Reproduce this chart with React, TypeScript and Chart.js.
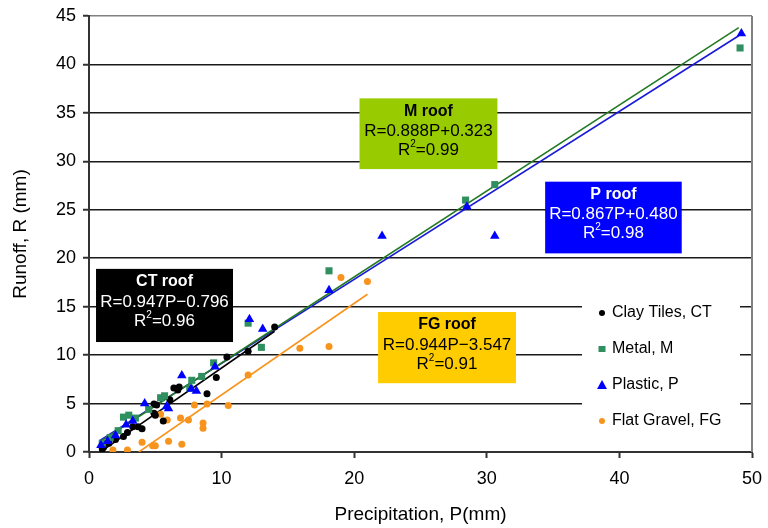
import React, { useEffect, useRef } from 'react';
import { Chart, registerables } from 'chart.js';

Chart.register(...registerables);

const FONT = '"Liberation Sans", Arial, Helvetica, sans-serif';

// Clay Tiles, CT
const ctPrecip = [1.0, 1.1, 1.5, 2.0, 2.6, 2.9, 3.3, 3.7, 4.0, 4.9, 5.0, 5.6, 4.9, 5.1, 6.1, 6.4, 6.7, 6.8, 8.9, 9.6, 10.4, 12.0, 14.0];
const ctRunoff = [0.3, 0.5, 0.9, 1.3, 1.6, 2.0, 2.6, 2.6, 2.4, 4.0, 3.8, 3.2, 4.95, 4.85, 5.4, 6.6, 6.4, 6.7, 6.0, 7.7, 9.8, 10.4, 12.9];
// Metal, M
const metalPrecip = [1.0, 1.6, 2.2, 2.6, 3.0, 3.5, 4.5, 5.4, 5.7, 7.6, 7.75, 8.5, 9.4, 12.0, 13.0, 18.1, 28.4, 30.6, 49.1];
const metalRunoff = [0.9, 1.5, 2.2, 3.6, 3.8, 3.5, 4.4, 5.6, 5.8, 6.6, 7.4, 7.8, 9.2, 13.3, 10.8, 18.7, 26.0, 27.6, 41.7];
// Plastic, P
const plasticPrecip = [0.9, 1.4, 2.0, 2.8, 3.3, 4.2, 5.85, 6.0, 7.0, 7.7, 8.1, 9.5, 12.1, 13.1, 18.1, 22.1, 28.5, 30.6, 49.2];
const plasticRunoff = [0.7, 1.1, 1.7, 2.8, 3.2, 5.0, 4.7, 4.5, 7.9, 6.5, 6.3, 8.8, 13.7, 12.7, 16.7, 22.3, 25.3, 22.3, 43.2];
// Flat Gravel, FG
const gravelPrecip = [1.8, 2.9, 4.0, 4.8, 5.0, 6.0, 7.0, 5.4, 5.9, 6.9, 7.5, 8.6, 8.6, 7.95, 8.9, 10.5, 12.0, 15.9, 18.1, 19.0, 21.0];
const gravelRunoff = [0.2, 0.2, 1.0, 0.65, 0.65, 1.1, 0.8, 3.9, 3.3, 3.5, 3.3, 3.0, 2.45, 4.85, 4.95, 4.8, 7.95, 10.7, 10.9, 18.0, 17.6];

// Trend line end points
const ctFitPrecip = [1.0, 14.0];
const ctFitRunoff = [0.15, 12.46];
const metalFitPrecip = [0.8, 49.0];
const metalFitRunoff = [1.03, 43.8];
const plasticFitPrecip = [0.8, 49.0];
const plasticFitRunoff = [1.17, 42.96];
const gravelFitPrecip = [3.76, 21.0];
const gravelFitRunoff = [0.0, 16.28];

const seriesLabels = ['Clay Tiles, CT', 'Metal, M', 'Plastic, P', 'Flat Gravel, FG'];

const COLORS = {
  ct: '#000000',
  metal: '#2f8f5f',
  metalLine: '#237a23',
  plastic: '#0000ff',
  plasticLine: '#1a1ad8',
  gravel: '#f7941d',
};

const boxes = [
  { title: 'CT roof', eq: 'R=0.947P\u22120.796', r2: '=0.96', bg: '#000000', fg: '#ffffff', x0: 0.53, x1: 10.86, y0: 18.9, y1: 11.35 },
  { title: 'M roof', eq: 'R=0.888P+0.323', r2: '=0.99', bg: '#99cc00', fg: '#000000', x0: 20.4, x1: 30.8, y0: 36.5, y1: 29.2 },
  { title: 'P roof', eq: 'R=0.867P+0.480', r2: '=0.98', bg: '#0000ff', fg: '#ffffff', x0: 34.4, x1: 44.7, y0: 27.9, y1: 20.5 },
  { title: 'FG roof', eq: 'R=0.944P\u22123.547', r2: '=0.91', bg: '#ffcc00', fg: '#000000', x0: 21.8, x1: 32.2, y0: 14.45, y1: 7.1 },
];

const pts = (xs: number[], ys: number[]) => xs.map((x, i) => ({ x, y: ys[i] }));

const annotationPlugin = {
  id: 'roofBoxes',
  afterDatasetsDraw(chart: any) {
    const { ctx, scales } = chart;
    const xs = scales.x;
    const ys = scales.y;
    ctx.save();
    boxes.forEach((b) => {
      const left = xs.getPixelForValue(b.x0);
      const right = xs.getPixelForValue(b.x1);
      const top = ys.getPixelForValue(b.y0);
      const bottom = ys.getPixelForValue(b.y1);
      ctx.fillStyle = b.bg;
      ctx.fillRect(left, top, right - left, bottom - top);
      const cx = (left + right) / 2;
      ctx.fillStyle = b.fg;
      ctx.textAlign = 'center';
      ctx.textBaseline = 'middle';
      ctx.font = `bold 16px ${FONT}`;
      ctx.fillText(b.title, cx, top + 13);
      ctx.font = `17px ${FONT}`;
      ctx.fillText(b.eq, cx, top + 33);
      // R² line
      const y3 = top + 52;
      ctx.font = `17px ${FONT}`;
      const wR = ctx.measureText('R').width;
      const wRest = ctx.measureText(b.r2).width;
      ctx.font = `10px ${FONT}`;
      const w2 = ctx.measureText('2').width;
      const total = wR + w2 + wRest;
      let x = cx - total / 2;
      ctx.textAlign = 'left';
      ctx.font = `17px ${FONT}`;
      ctx.fillText('R', x, y3);
      x += wR;
      ctx.font = `10px ${FONT}`;
      ctx.fillText('2', x, y3 - 6);
      x += w2;
      ctx.font = `17px ${FONT}`;
      ctx.fillText(b.r2, x, y3);
    });
    ctx.restore();
  },
};

const legendPlugin = {
  id: 'innerLegend',
  afterDatasetsDraw(chart: any) {
    const { ctx, chartArea } = chart;
    ctx.save();
    const left = chartArea.right - 170;
    const top = chartArea.bottom - 157;
    ctx.fillStyle = '#ffffff';
    ctx.fillRect(left, top, 158, 148);
    const items = [
      { label: seriesLabels[0], color: COLORS.ct, shape: 'circle' },
      { label: seriesLabels[1], color: COLORS.metal, shape: 'rect' },
      { label: seriesLabels[2], color: COLORS.plastic, shape: 'triangle' },
      { label: seriesLabels[3], color: COLORS.gravel, shape: 'circle' },
    ];
    items.forEach((it, i) => {
      const y = top + 18 + i * 36;
      const mx = left + 20;
      ctx.fillStyle = it.color;
      ctx.beginPath();
      if (it.shape === 'circle') {
        ctx.arc(mx, y, 3, 0, Math.PI * 2);
      } else if (it.shape === 'rect') {
        ctx.rect(mx - 3.5, y - 3, 7, 6);
      } else {
        ctx.moveTo(mx, y - 5);
        ctx.lineTo(mx + 5, y + 4);
        ctx.lineTo(mx - 5, y + 4);
        ctx.closePath();
      }
      ctx.fill();
      ctx.fillStyle = '#000000';
      ctx.font = `16px ${FONT}`;
      ctx.textAlign = 'left';
      ctx.textBaseline = 'middle';
      ctx.fillText(it.label, mx + 10, y);
    });
    // right border of plot area
    ctx.strokeStyle = '#808080';
    ctx.lineWidth = 2;
    ctx.beginPath();
    ctx.moveTo(chartArea.right, chartArea.top);
    ctx.lineTo(chartArea.right, chartArea.bottom);
    ctx.stroke();
    ctx.restore();
  },
};

export default function App() {
  const ref = useRef<HTMLCanvasElement | null>(null);

  useEffect(() => {
    if (!ref.current) return;
    const lineDs = (label: string, xs: number[], ys: number[], color: string, order: number) => ({
      type: 'line' as const,
      label,
      data: pts(xs, ys),
      borderColor: color,
      backgroundColor: color,
      borderWidth: 1.6,
      pointRadius: 0,
      showLine: true,
      fill: false,
      order,
    });
    const chart = new Chart(ref.current, {
      type: 'scatter',
      data: {
        datasets: [
          lineDs('CT fit', ctFitPrecip, ctFitRunoff, COLORS.ct, 5),
          lineDs('FG fit', gravelFitPrecip, gravelFitRunoff, COLORS.gravel, 5),
          lineDs('P fit', plasticFitPrecip, plasticFitRunoff, COLORS.plasticLine, 5),
          lineDs('M fit', metalFitPrecip, metalFitRunoff, COLORS.metalLine, 4),
          {
            label: seriesLabels[3],
            data: pts(gravelPrecip, gravelRunoff),
            pointStyle: 'circle',
            pointRadius: 3.5,
            backgroundColor: COLORS.gravel,
            borderColor: COLORS.gravel,
            borderWidth: 0,
            order: 3,
          },
          {
            label: seriesLabels[0],
            data: pts(ctPrecip, ctRunoff),
            pointStyle: 'circle',
            pointRadius: 3.5,
            backgroundColor: COLORS.ct,
            borderColor: COLORS.ct,
            borderWidth: 0,
            order: 2,
          },
          {
            label: seriesLabels[1],
            data: pts(metalPrecip, metalRunoff),
            pointStyle: 'rect',
            pointRadius: 5,
            backgroundColor: COLORS.metal,
            borderColor: COLORS.metal,
            borderWidth: 0,
            order: 1,
          },
          {
            label: seriesLabels[2],
            data: pts(plasticPrecip, plasticRunoff),
            pointStyle: 'triangle',
            pointRadius: 5.5,
            backgroundColor: COLORS.plastic,
            borderColor: COLORS.plastic,
            borderWidth: 0,
            order: 0,
          },
        ],
      },
      options: {
        animation: false,
        responsive: true,
        maintainAspectRatio: false,
        layout: { padding: { top: 16, right: 16, left: 0, bottom: 0 } },
        plugins: {
          legend: { display: false },
          tooltip: { enabled: false },
        },
        scales: {
          x: {
            type: 'linear',
            min: 0,
            max: 50,
            ticks: {
              stepSize: 10,
              color: '#000000',
              font: { family: FONT, size: 18 },
              padding: 10,
            },
            grid: {
              drawOnChartArea: false,
              drawTicks: true,
              tickLength: 6,
              tickColor: '#333333',
              tickWidth: 2,
            },
            border: { display: true, color: '#333333', width: 2 },
            title: {
              display: true,
              text: 'Precipitation, P(mm)',
              color: '#000000',
              font: { family: FONT, size: 19 },
              padding: { top: 0, bottom: 2 },
            },
            afterFit(s: any) {
              s.height = 76;
              s.paddingLeft = 0;
              s.paddingRight = 0;
            },
          },
          y: {
            type: 'linear',
            min: 0,
            max: 45,
            ticks: {
              stepSize: 5,
              color: '#000000',
              font: { family: FONT, size: 18 },
              padding: 7,
            },
            grid: {
              color: (c: any) => (c.tick && c.tick.value === 45 ? '#808080' : '#1a1a1a'),
              lineWidth: 1.5,
              drawTicks: true,
              tickLength: 6,
              tickColor: '#333333',
              tickWidth: 2,
            },
            border: { display: true, color: '#333333', width: 2 },
            title: {
              display: true,
              text: 'Runoff, R (mm)',
              color: '#000000',
              font: { family: FONT, size: 19 },
              padding: { top: 9, bottom: 0 },
            },
            afterFit(s: any) {
              s.width = 89;
              s.paddingTop = 0;
              s.paddingBottom = 0;
            },
          },
        },
      },
      plugins: [annotationPlugin, legendPlugin],
    } as any);
    return () => chart.destroy();
  }, []);

  return (
    <div style={{ position: 'fixed', left: 0, top: 0, width: 768, height: 528, background: '#ffffff' }}>
      <canvas ref={ref} />
    </div>
  );
}
